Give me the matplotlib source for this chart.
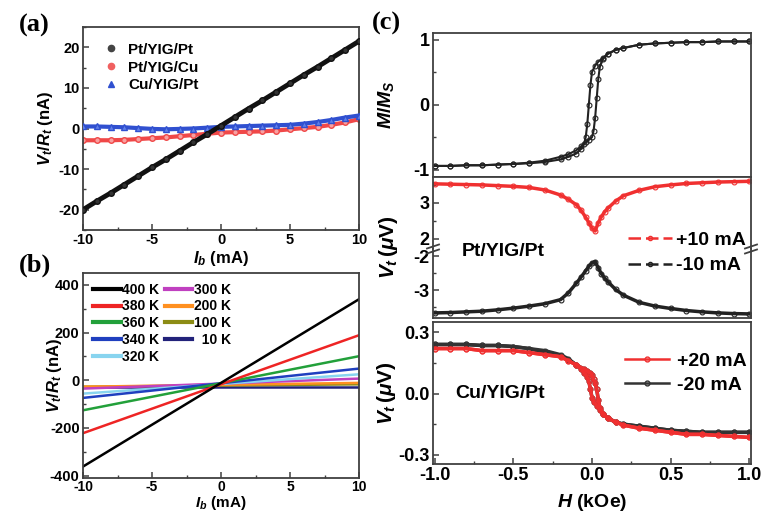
import matplotlib
matplotlib.use('Agg')
import matplotlib.pyplot as plt
from matplotlib.ticker import MultipleLocator, FormatStrFormatter
from matplotlib.lines import Line2D

plt.rcParams['font.family'] = ['Liberation Sans', 'DejaVu Sans']
plt.rcParams['font.weight'] = 'bold'
plt.rcParams['axes.labelweight'] = 'bold'
plt.rcParams['mathtext.fontset'] = 'custom'
plt.rcParams['mathtext.rm'] = 'Liberation Sans:bold'
plt.rcParams['mathtext.it'] = 'Liberation Sans:italic:bold'
plt.rcParams['mathtext.bf'] = 'Liberation Sans:bold'
plt.rcParams['axes.unicode_minus'] = False

# ---------------- data: panel (a) ----------------
Ib_a = [-10, -9, -8, -7, -6, -5, -4, -3, -2, -1, 0, 1, 2, 3, 4, 5, 6, 7, 8, 9, 10]
a_pt_yig_pt = [-20.0, -17.9, -15.9, -13.8, -11.7, -9.6, -7.6, -5.5, -3.4, -1.4, 0.7,
               2.8, 4.9, 6.9, 9.0, 11.1, 13.2, 15.2, 17.3, 19.4, 21.5]
a_pt_yig_cu = [-2.9, -2.9, -2.9, -2.8, -2.6, -2.4, -2.2, -1.9, -1.6, -1.3, -1.0,
               -0.9, -0.8, -0.7, -0.5, -0.2, 0.1, 0.4, 0.9, 1.5, 2.3]
a_cu_yig_pt = [0.5, 0.5, 0.4, 0.3, 0.1, -0.1, -0.2, -0.1, 0.0, 0.2, 0.4,
               0.5, 0.6, 0.7, 0.8, 0.9, 1.2, 1.6, 2.1, 2.7, 3.2]

# ---------------- data: panel (b) ----------------
Ib_b = [-10, 10]
b_temps = ['400 K', '380 K', '360 K', '340 K', '320 K', '300 K', '200 K', '100 K', '  10 K']
b_left = [-362, -222, -126, -74, -56, -35, -27, -27, -28]
b_right = [340, 189, 101, 49, 25, 7, -11, -17, -28]
b_colors = ['#000000', '#ee2424', '#22a03a', '#1f3fbf', '#88d4ef', '#c040c0', '#ff9020', '#8c8c14', '#22227a']

# ---------------- data: panel (c) top, M/Ms ----------------
H_m_up = [-1.0, -0.9, -0.8, -0.7, -0.6, -0.5, -0.4, -0.3, -0.2, -0.15, -0.1, -0.07, -0.04, -0.02,
          0.0, 0.01, 0.02, 0.03, 0.04, 0.05, 0.07, 0.1, 0.15, 0.2, 0.3, 0.4, 0.5, 0.6, 0.7, 0.8, 0.9, 1.0]
M_up = [-0.94, -0.94, -0.93, -0.93, -0.92, -0.91, -0.89, -0.86, -0.8, -0.76, -0.7, -0.64, -0.58, -0.54,
        -0.5, -0.4, -0.2, 0.1, 0.4, 0.58, 0.7, 0.78, 0.84, 0.87, 0.92, 0.94, 0.95, 0.96, 0.96, 0.97, 0.97, 0.97]
H_m_dn = [1.0, 0.9, 0.8, 0.7, 0.6, 0.5, 0.4, 0.3, 0.2, 0.15, 0.1, 0.07, 0.04, 0.02,
          0.0, -0.01, -0.02, -0.03, -0.04, -0.05, -0.07, -0.1, -0.15, -0.2, -0.3, -0.4, -0.5, -0.6, -0.7, -0.8, -0.9, -1.0]
M_dn = [0.97, 0.97, 0.97, 0.96, 0.96, 0.95, 0.94, 0.92, 0.87, 0.84, 0.78, 0.72, 0.66, 0.6,
        0.5, 0.3, 0.0, -0.3, -0.5, -0.6, -0.68, -0.75, -0.8, -0.84, -0.88, -0.9, -0.91, -0.92, -0.93, -0.93, -0.94, -0.94]

# ---------------- data: panel (c) middle, Pt/YIG/Pt ----------------
H_mid = [-1.0, -0.9, -0.8, -0.7, -0.6, -0.5, -0.4, -0.3, -0.2, -0.15, -0.1, -0.07, -0.04, -0.02,
         0.0, 0.02, 0.04, 0.06, 0.08, 0.1, 0.15, 0.2, 0.3, 0.4, 0.5, 0.6, 0.7, 0.8, 0.9, 1.0]
V_p10 = [3.53, 3.52, 3.51, 3.5, 3.48, 3.46, 3.43, 3.36, 3.22, 3.1, 2.95, 2.8, 2.6, 2.45,
         2.3, 2.22, 2.45, 2.62, 2.75, 2.85, 3.05, 3.2, 3.35, 3.45, 3.5, 3.54, 3.56, 3.58, 3.59, 3.6]
V_m10 = [-3.67, -3.66, -3.64, -3.62, -3.58, -3.53, -3.47, -3.4, -3.28, -3.08, -2.8, -2.62, -2.43, -2.3,
         -2.2, -2.16, -2.35, -2.52, -2.64, -2.75, -2.98, -3.15, -3.36, -3.47, -3.54, -3.6, -3.64, -3.67, -3.69, -3.7]

# ---------------- data: panel (c) bottom, Cu/YIG/Pt ----------------
H_cu_dn = [1.0, 0.9, 0.8, 0.7, 0.6, 0.5, 0.4, 0.3, 0.2, 0.15, 0.1, 0.07, 0.05, 0.03, 0.01, 0.0,
           -0.01, -0.02, -0.03, -0.05, -0.07, -0.1, -0.15, -0.2, -0.3, -0.4, -0.5, -0.6, -0.7, -0.8, -0.9, -1.0]
V_p20_dn = [-0.215, -0.21, -0.205, -0.2, -0.2, -0.19, -0.18, -0.17, -0.155, -0.14, -0.12, -0.1, -0.08, -0.06, -0.04, -0.02,
            0.02, 0.06, 0.08, 0.1, 0.12, 0.14, 0.16, 0.18, 0.19, 0.2, 0.21, 0.21, 0.21, 0.22, 0.22, 0.22]
H_cu_up = [-1.0, -0.9, -0.8, -0.7, -0.6, -0.5, -0.4, -0.3, -0.2, -0.15, -0.1, -0.05, -0.03, -0.01, 0.0,
           0.01, 0.02, 0.03, 0.04, 0.05, 0.07, 0.1, 0.15, 0.2, 0.3, 0.4, 0.5, 0.6, 0.7, 0.8, 0.9, 1.0]
V_p20_up = [0.22, 0.22, 0.22, 0.21, 0.21, 0.21, 0.2, 0.19, 0.18, 0.16, 0.14, 0.12, 0.11, 0.1, 0.09,
            0.07, 0.05, 0.02, -0.03, -0.07, -0.1, -0.12, -0.14, -0.155, -0.17, -0.18, -0.19, -0.2, -0.2, -0.205, -0.21, -0.215]
V_m20_dn = [-0.19, -0.19, -0.19, -0.19, -0.185, -0.18, -0.17, -0.16, -0.15, -0.14, -0.12, -0.1, -0.08, -0.06, -0.04, -0.02,
            0.02, 0.06, 0.08, 0.1, 0.12, 0.14, 0.17, 0.19, 0.21, 0.22, 0.23, 0.235, 0.235, 0.24, 0.24, 0.24]
V_m20_up = [0.24, 0.24, 0.24, 0.235, 0.235, 0.23, 0.22, 0.2, 0.185, 0.165, 0.14, 0.12, 0.11, 0.1, 0.09,
            0.07, 0.05, 0.02, -0.03, -0.07, -0.1, -0.12, -0.14, -0.15, -0.16, -0.17, -0.18, -0.185, -0.19, -0.19, -0.19, -0.19]

# ---------------- figure ----------------
W, Hh = 771, 514
fig = plt.figure(figsize=(W / 100, Hh / 100), dpi=100)


def rect(x0, y0, x1, y1):
    return [x0 / W, 1 - y1 / Hh, (x1 - x0) / W, (y1 - y0) / Hh]


SP = '#404040'


def style(ax, fs=10.5):
    for s in ax.spines.values():
        s.set_color(SP)
        s.set_linewidth(1.3)
    ax.tick_params(which='both', direction='in', top=False, right=False, labelsize=fs, color=SP, pad=2.5)
    ax.tick_params(which='major', length=4, width=1.1)
    ax.tick_params(which='minor', length=2.5, width=1.0)


# ---- (a) ----
axa = fig.add_axes(rect(83, 27, 359, 230))
style(axa)
axa.plot(Ib_a, a_pt_yig_cu, color='#f04848', lw=3, marker='o', ms=4, mfc='#f8a0a0', mec='#f04848', zorder=2)
axa.plot(Ib_a, a_cu_yig_pt, color='#3050d0', lw=3, marker='^', ms=4, mfc='#6080e8', mec='#3050d0', zorder=3)
axa.plot(Ib_a, a_pt_yig_pt, color='#111111', lw=3.5, marker='o', ms=4, mfc='#333333', mec='#111111', zorder=4)
axa.set_xlim(-10, 10)
axa.set_ylim(-25, 25)
axa.xaxis.set_major_locator(MultipleLocator(5))
axa.xaxis.set_minor_locator(MultipleLocator(2.5))
axa.yaxis.set_major_locator(MultipleLocator(10))
axa.yaxis.set_minor_locator(MultipleLocator(5))
axa.set_xlabel(r'$I_b$ (mA)', fontsize=12)
axa.set_ylabel(r'$V_t/R_t$ (nA)', fontsize=12)
axa.yaxis.set_label_coords(-0.10, 0.5)
axa.xaxis.set_label_coords(0.5, -0.095)
ha = [Line2D([], [], ls='none', marker='o', ms=4.5, color='#444444'),
      Line2D([], [], ls='none', marker='o', ms=4.5, color='#f06060'),
      Line2D([], [], ls='none', marker='^', ms=4.5, color='#3050d0')]
axa.legend(ha, ['Pt/YIG/Pt', 'Pt/YIG/Cu', 'Cu/YIG/Pt'], loc='upper left', frameon=False,
           fontsize=11, handlelength=1.2, handletextpad=0.5, labelspacing=0.25,
           bbox_to_anchor=(0.02, 0.99))

# ---- (b) ----
axb = fig.add_axes(rect(83, 273, 359, 478))
style(axb)
axb.tick_params(axis='x', labelsize=10, pad=1.5)
order = [8, 7, 6, 5, 4, 3, 2, 1, 0]
for i in order:
    axb.plot(Ib_b, [b_left[i], b_right[i]], color=b_colors[i], lw=1.8)
axb.set_xlim(-10, 10)
axb.set_ylim(-410, 450)
axb.xaxis.set_major_locator(MultipleLocator(5))
axb.xaxis.set_minor_locator(MultipleLocator(2.5))
axb.yaxis.set_major_locator(MultipleLocator(200))
axb.yaxis.set_minor_locator(MultipleLocator(100))
axb.set_xlabel(r'$I_b$ (mA)', fontsize=11)
axb.xaxis.label.set_va('bottom')
axb.set_ylabel(r'$V_t/R_t$ (nA)', fontsize=12)
axb.yaxis.set_label_coords(-0.07, 0.5)
axb.xaxis.set_label_coords(0.5, -0.166)
hb = [Line2D([], [], color=c, lw=3) for c in b_colors]
axb.legend(hb, b_temps, ncol=2, loc='upper left', frameon=False, fontsize=10,
           handlelength=2.0, handletextpad=0.1, labelspacing=0.2, columnspacing=0.4,
           bbox_to_anchor=(0.0, 1.0), borderaxespad=0.3)

# ---- (c) top ----
XL = (-1.01, 1.01)
FC = 13
axc1 = fig.add_axes(rect(433, 33, 751, 177))
style(axc1, FC)
axc1.plot(H_m_up, M_up, color='#222222', lw=1.5, marker='o', ms=3.5, mfc='none', mew=0.8)
axc1.plot(H_m_dn, M_dn, color='#222222', lw=1.5, marker='o', ms=3.5, mfc='none', mew=0.8)
axc1.set_xlim(*XL)
axc1.set_ylim(-1.11, 1.10)
axc1.yaxis.set_major_locator(MultipleLocator(1))
axc1.yaxis.set_minor_locator(MultipleLocator(0.5))
axc1.set_xticks([])
axc1.set_ylabel(r'$M/M_S$', fontsize=14)
axc1.yaxis.set_label_coords(-0.115, 0.5)

# ---- (c) middle (broken axis) ----
axc2 = fig.add_axes(rect(433, 177, 751, 249))
axc3 = fig.add_axes(rect(433, 249, 751, 318))
for ax in (axc2, axc3):
    style(ax, FC)
    ax.set_xlim(*XL)
    ax.set_xticks([])
    ax.yaxis.set_major_locator(MultipleLocator(1))
    ax.yaxis.set_minor_locator(MultipleLocator(0.5))
axc2.spines['bottom'].set_visible(False)
axc3.spines['top'].set_visible(False)
axc2.plot(H_mid, V_p10, color='#f03030', lw=2.5, marker='o', ms=3.5, mfc='none', mew=0.8, ls='-')
axc3.plot(H_mid, V_m10, color='#222222', lw=2.5, marker='o', ms=3.5, mfc='none', mew=0.8, ls='-')
axc2.set_ylim(1.72, 3.72)
axc3.set_ylim(-3.82, -1.79)
axc2.yaxis.set_major_formatter(FormatStrFormatter('%d'))
axc3.yaxis.set_major_formatter(FormatStrFormatter('%d'))
fig.text(389 / W, 1 - 247 / Hh, r'$V_t\,(\mu\mathrm{V})$', rotation=90, ha='center', va='center', fontsize=15)
fig.text(462 / W, 1 - 251 / Hh, 'Pt/YIG/Pt', ha='left', va='center', fontsize=14)
# break marks
for xb in (433, 751):
    for dy in (-2.5, 2.5):
        fig.add_artist(Line2D([(xb - 6) / W, (xb + 6) / W],
                              [1 - (249 + dy + 2) / Hh, 1 - (249 + dy - 2) / Hh],
                              color=SP, lw=1.3))
hm = [Line2D([], [], color='#f03030', lw=1.8, ls=(0, (5, 2)), marker='o', ms=3, mfc='none'),
      Line2D([], [], color='#222222', lw=1.8, ls=(0, (5, 2)), marker='o', ms=3, mfc='none')]
fig.legend(hm, ['+10 mA', '-10 mA'], loc='center left', frameon=False, fontsize=14,
           handlelength=2.3, handletextpad=0.2, labelspacing=0.4,
           bbox_to_anchor=(610 / W, 1 - 253 / Hh))

# ---- (c) bottom ----
axc4 = fig.add_axes(rect(433, 322, 751, 464))
style(axc4, FC)
axc4.plot(H_cu_dn, V_m20_dn, color='#333333', lw=2.5, marker='o', ms=3.5, mfc='none', mew=0.8)
axc4.plot(H_cu_up, V_m20_up, color='#333333', lw=2.5, marker='o', ms=3.5, mfc='none', mew=0.8)
axc4.plot(H_cu_dn, V_p20_dn, color='#f03030', lw=2.5, marker='o', ms=3.5, mfc='none', mew=0.8)
axc4.plot(H_cu_up, V_p20_up, color='#f03030', lw=2.5, marker='o', ms=3.5, mfc='none', mew=0.8)
axc4.set_xlim(*XL)
axc4.set_ylim(-0.345, 0.35)
axc4.xaxis.set_major_locator(MultipleLocator(0.5))
axc4.xaxis.set_minor_locator(MultipleLocator(0.25))
axc4.yaxis.set_major_locator(MultipleLocator(0.3))
axc4.yaxis.set_minor_locator(MultipleLocator(0.15))
axc4.xaxis.set_major_formatter(FormatStrFormatter('%.1f'))
axc4.yaxis.set_major_formatter(FormatStrFormatter('%.1f'))
axc4.set_xlabel(r'$H$ (kOe)', fontsize=14)
axc4.set_ylabel(r'$V_t\,(\mu\mathrm{V})$', fontsize=15)
axc4.yaxis.set_label_coords(-0.11, 0.5)
axc4.xaxis.set_label_coords(0.5, -0.2)
fig.text(455 / W, 1 - 393 / Hh, 'Cu/YIG/Pt', ha='left', va='center', fontsize=14)
hc = [Line2D([], [], color='#f03030', lw=1.8, marker='o', ms=3.5, mfc='none'),
      Line2D([], [], color='#333333', lw=1.8, marker='o', ms=3.5, mfc='none')]
fig.legend(hc, ['+20 mA', '-20 mA'], loc='center left', frameon=False, fontsize=14,
           handlelength=2.3, handletextpad=0.4, labelspacing=0.3,
           bbox_to_anchor=(607 / W, 1 - 373 / Hh))

# panel labels
fig.text(19 / W, 1 - 25 / Hh, '(a)', family='Liberation Serif', fontweight='bold', fontsize=19, ha='left', va='center')
fig.text(19 / W, 1 - 265 / Hh, '(b)', family='Liberation Serif', fontweight='bold', fontsize=19, ha='left', va='center')
fig.text(372 / W, 1 - 23 / Hh, '(c)', family='Liberation Serif', fontweight='bold', fontsize=19, ha='left', va='center')

fig.savefig('out.png', dpi=100)
